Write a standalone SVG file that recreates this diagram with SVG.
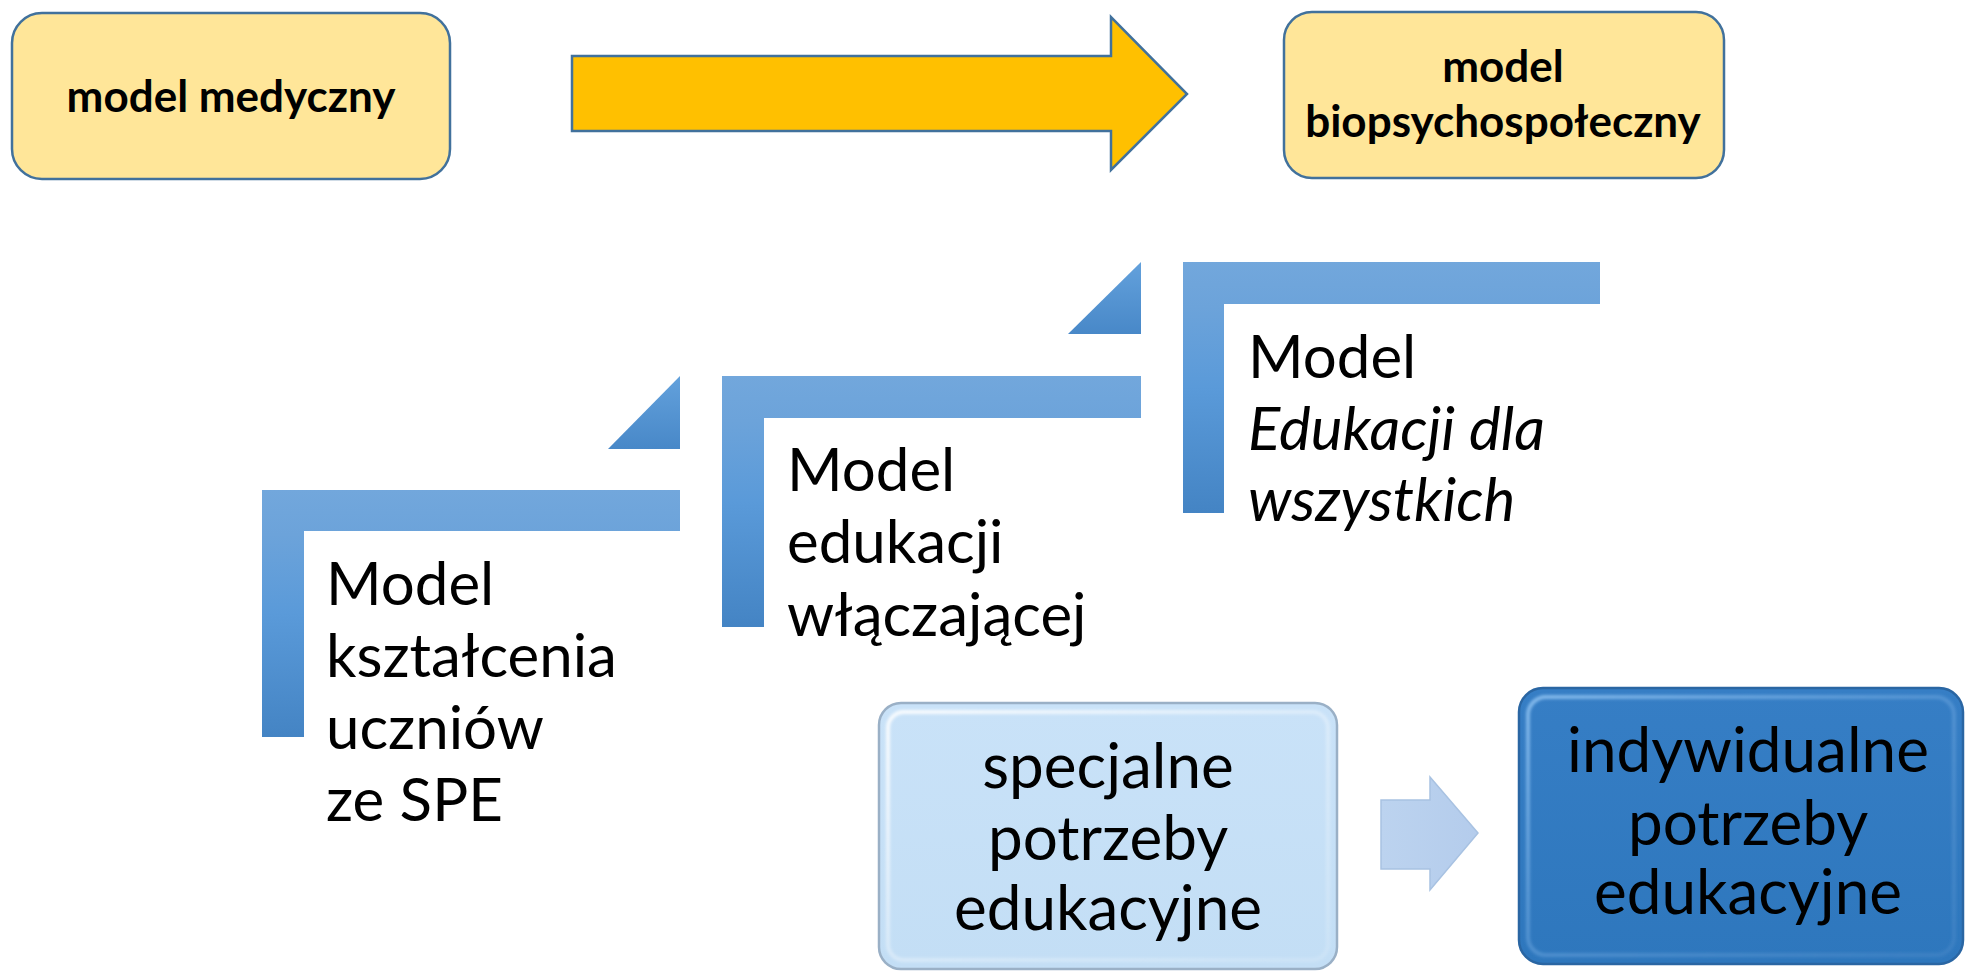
<svg xmlns="http://www.w3.org/2000/svg" width="1968" height="974" viewBox="0 0 1968 974">
<style>
.yb{fill:#FFE699;stroke:#41719C;stroke-width:2.5}
.tb{font-family:Lato,"Open Sans","Liberation Sans",sans-serif;font-weight:bold;font-size:44px;fill:#000;text-anchor:middle}
.tr{font-family:Lato,"Open Sans","Liberation Sans",sans-serif;font-size:60px;fill:#000}
.tc{font-family:Lato,"Open Sans","Liberation Sans",sans-serif;font-size:62px;fill:#000;text-anchor:middle}
.it{font-style:italic}
.step{fill:url(#gStep)}
.tri{fill:url(#gTri)}
</style>
<defs>
<linearGradient id="gStep" x1="0" y1="0" x2="0" y2="1">
<stop offset="0" stop-color="#72A7DC"/>
<stop offset="0.18" stop-color="#6CA3DA"/>
<stop offset="0.5" stop-color="#5A9AD9"/>
<stop offset="1" stop-color="#4484C4"/>
</linearGradient>
<linearGradient id="gTri" x1="0" y1="0" x2="0" y2="1">
<stop offset="0" stop-color="#63A1DC"/>
<stop offset="1" stop-color="#4888C8"/>
</linearGradient>
<linearGradient id="gLight" x1="0" y1="0" x2="0" y2="1">
<stop offset="0" stop-color="#C9E2F8"/>
<stop offset="1" stop-color="#C3DEF5"/>
</linearGradient>
<linearGradient id="gDark" x1="0" y1="0" x2="0" y2="1">
<stop offset="0" stop-color="#367EC5"/>
<stop offset="1" stop-color="#2E77BD"/>
</linearGradient>
<linearGradient id="gHiL" x1="0" y1="0" x2="1" y2="1">
<stop offset="0" stop-color="#FFFFFF" stop-opacity="0.9"/>
<stop offset="0.5" stop-color="#FFFFFF" stop-opacity="0.35"/>
<stop offset="1" stop-color="#FFFFFF" stop-opacity="0.15"/>
</linearGradient>
<linearGradient id="gHiD" x1="0" y1="0" x2="1" y2="1">
<stop offset="0" stop-color="#8CC0F0" stop-opacity="0.9"/>
<stop offset="0.5" stop-color="#6FA8E0" stop-opacity="0.5"/>
<stop offset="1" stop-color="#5B95D0" stop-opacity="0.3"/>
</linearGradient>
<linearGradient id="gSmall" x1="0" y1="0" x2="1" y2="0">
<stop offset="0" stop-color="#BCD3EF"/>
<stop offset="1" stop-color="#B4CCEC"/>
</linearGradient>
<filter id="soft" x="-5%" y="-5%" width="110%" height="110%">
<feGaussianBlur stdDeviation="1.5"/>
</filter>
</defs>
<rect width="1968" height="974" fill="#FFFFFF"/>

<g id="connectors">
<path id="arrow-main" d="M572,56 H1111 V17 L1187,94 L1111,170 V131 H572 Z" fill="#FFC000" stroke="#41719C" stroke-width="2.5"/>
<path id="arrow-small" d="M1381,800 H1430 V777 L1478,833 L1430,890 V869 H1381 Z" fill="url(#gSmall)" stroke="#A8C2E2" stroke-width="1.5"/>
</g>

<g id="node-model-medyczny">
<rect class="yb" x="12" y="13" width="438" height="166" rx="30"/>
<text class="tb" x="231" y="112">model medyczny</text>
</g>

<g id="node-model-biopsychospoleczny">
<rect class="yb" x="1284" y="12" width="440" height="166" rx="28"/>
<text class="tb" x="1503" y="82">model</text>
<text class="tb" x="1503" y="137">biopsychospołeczny</text>
</g>

<g id="node-step1">
<path class="step" d="M262,490 H680 V531 H304 V737 H262 Z"/>
<path class="tri" d="M680,376 L680,449 L608,449 Z"/>
<text class="tr" x="326" y="605">Model</text>
<text class="tr" x="326" y="677">kształcenia</text>
<text class="tr" x="326" y="749">uczniów</text>
<text class="tr" x="326" y="821">ze SPE</text>
</g>

<g id="node-step2">
<path class="step" d="M722,376 H1141 V418 H764 V627 H722 Z"/>
<path class="tri" d="M1141,262 L1141,334 L1068,334 Z"/>
<text class="tr" x="787" y="491">Model</text>
<text class="tr" x="787" y="563">edukacji</text>
<text class="tr" x="787" y="636">włączającej</text>
</g>

<g id="node-step3">
<path class="step" d="M1183,262 H1600 V304 H1224 V513 H1183 Z"/>
<text class="tr" x="1248" y="378">Model</text>
<text class="tr it" x="1248" y="450">Edukacji dla</text>
<text class="tr it" x="1248" y="521">wszystkich</text>
</g>

<g id="node-specjalne">
<rect x="879" y="703" width="458" height="266" rx="22" fill="url(#gLight)" stroke="#9AB0C6" stroke-width="2.5"/>
<rect x="888" y="712" width="440" height="248" rx="16" fill="none" stroke="url(#gHiL)" stroke-width="4" filter="url(#soft)"/>
<text class="tc" x="1108" y="788">specjalne</text>
<text class="tc" x="1108" y="860">potrzeby</text>
<text class="tc" x="1108" y="930">edukacyjne</text>
</g>

<g id="node-indywidualne">
<rect x="1519" y="688" width="444" height="276" rx="24" fill="url(#gDark)" stroke="#2A66A3" stroke-width="2.5"/>
<rect x="1528" y="697" width="426" height="258" rx="18" fill="none" stroke="url(#gHiD)" stroke-width="4" filter="url(#soft)"/>
<text class="tc" x="1748" y="772">indywidualne</text>
<text class="tc" x="1748" y="845">potrzeby</text>
<text class="tc" x="1748" y="914">edukacyjne</text>
</g>
</svg>
